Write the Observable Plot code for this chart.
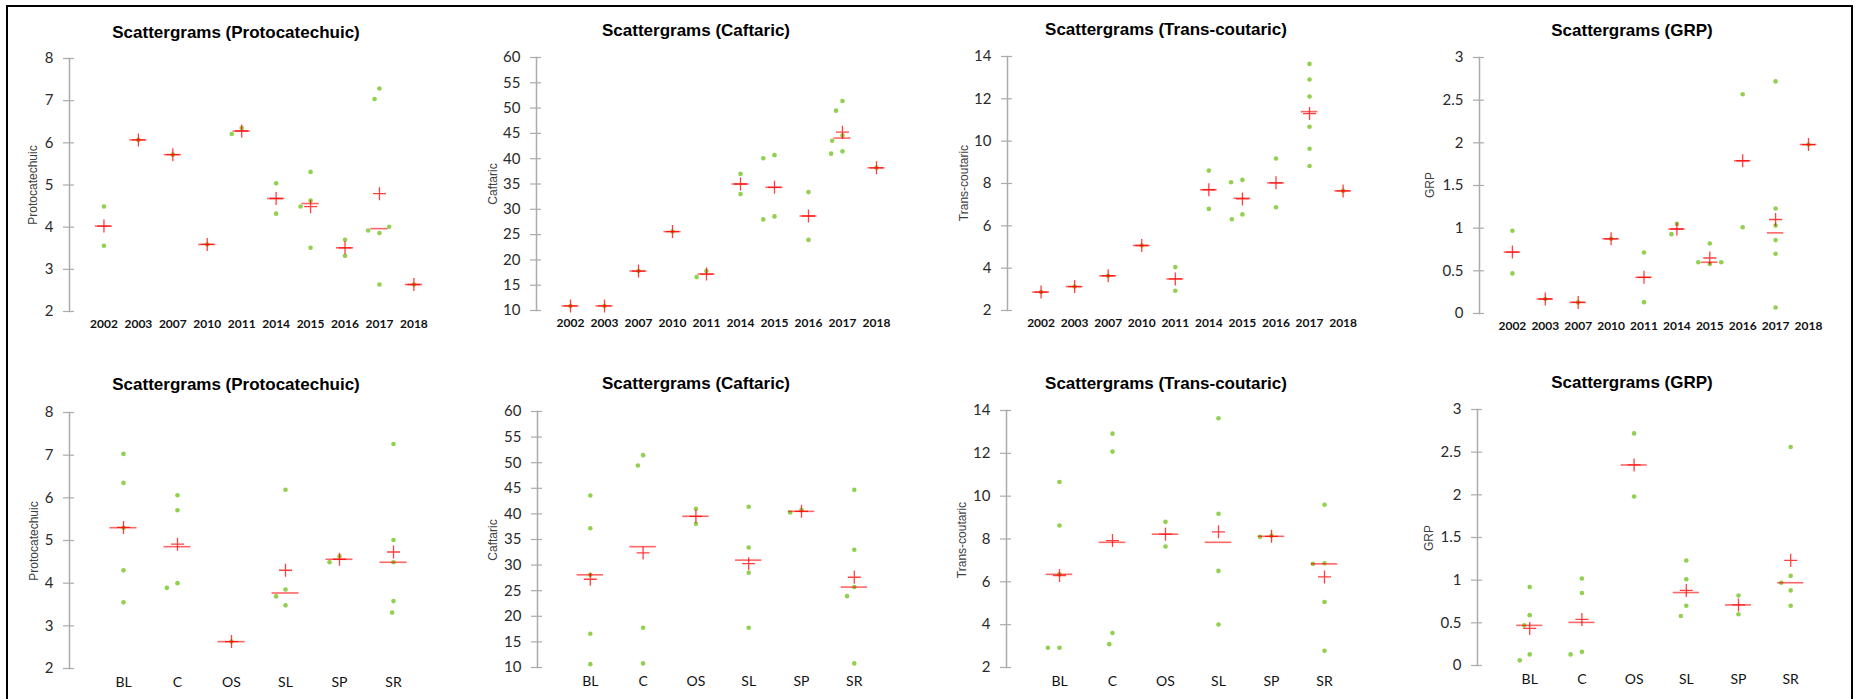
<!DOCTYPE html>
<html>
<head>
<meta charset="utf-8">
<script src="https://cdn.jsdelivr.net/npm/d3@7"></script>
<script src="https://cdn.jsdelivr.net/npm/@observablehq/plot@0.6"></script>
<style>
  html, body { margin: 0; padding: 0; background: #fff; }
  #root { position: relative; width: 1858px; height: 699px; overflow: hidden; background: #fff; }
  #border { position: absolute; left: 6px; top: 5px; width: 1843px; height: 760px; border: 2px solid #000; }
  .title { position: absolute; transform: translate(-50%, -50%); font: bold 17px "Liberation Sans", Arial, sans-serif; color: #000; white-space: nowrap; line-height: 1; }
  .ylab { position: absolute; transform: translate(-50%, -50%) rotate(-90deg); font: 12px "Liberation Sans", Arial, sans-serif; color: #404040; white-space: nowrap; line-height: 1; }
  svg.panel { position: absolute; }
</style>
</head>
<body>
<div id="root"><div id="border"></div></div>
<script>
// ---------- DATA ----------
const years = ["2002", "2003", "2007", "2010", "2011", "2014", "2015", "2016", "2017", "2018"];
const groups = ["BL", "C", "OS", "SL", "SP", "SR"];

// values per year (top row)
const protoYear = [[4.49, 3.56], [6.07], [5.72], [3.59], [6.35, 6.21], [5.04, 4.32], [5.31, 4.63, 4.49, 3.51], [3.70, 3.32], [7.29, 7.04, 3.86, 3.92, 4.01, 2.64], [2.64]];
const caftYear = [[10.9], [10.9], [17.8], [25.6], [17.8, 16.6], [37.0, 33.0], [40.7, 40.1, 28.6, 28.0], [33.4, 23.95], [51.4, 49.5, 44.6, 43.55, 41.45, 41.0], [38.2]];
const transYear = [[2.87], [3.13], [3.64], [5.07], [4.05, 2.93], [8.61, 6.80], [8.17, 8.06, 6.54, 6.31], [9.18, 6.88], [13.65, 12.91, 12.11, 10.68, 9.64, 8.83], [7.65]];
const grpYear = [[0.97, 0.47], [0.17], [0.13], [0.875], [0.715, 0.133], [1.05, 0.93], [0.82, 0.58, 0.60, 0.60], [2.57, 1.01], [2.72, 1.23, 1.03, 0.86, 0.70, 0.07], [1.98]];

// values per group (bottom row)
const protoGroup = [[7.03, 6.35, 5.30, 4.30, 3.55], [6.06, 5.71, 4.00, 3.89], [2.63], [6.19, 3.85, 3.69, 3.48], [4.63, 4.49], [7.26, 5.01, 4.49, 3.58, 3.31]];
const caftGroup = [[43.6, 37.2, 28.1, 16.6, 10.65], [51.47, 49.45, 17.75, 10.8], [41.0, 38.06], [41.4, 33.44, 28.5, 17.75], [40.73, 40.27], [44.7, 33.0, 25.7, 23.93, 10.8]];
const transGroup = [[10.66, 8.63, 6.35, 2.92, 2.92], [12.92, 12.08, 3.61, 3.09], [8.8, 7.65], [13.64, 9.18, 6.51, 4.01], [8.15, 8.10], [9.6, 6.87, 6.84, 5.06, 2.78]];
const grpGroup = [[0.92, 0.59, 0.47, 0.13, 0.06], [1.02, 0.85, 0.16, 0.13], [2.72, 1.98], [1.23, 1.01, 0.70, 0.58], [0.82, 0.60], [2.56, 1.05, 0.97, 0.88, 0.70]];

// y-axis ticks
const protoTicks = [2, 3, 4, 5, 6, 7, 8];
const caftTicks = [10, 15, 20, 25, 30, 35, 40, 45, 50, 55, 60];
const transTicks = [2, 4, 6, 8, 10, 12, 14];
const grpTicks = [0, 0.5, 1, 1.5, 2, 2.5, 3];

// ---------- LAYOUT ----------
const panels = [
  {title: "Scattergrams (Protocatechuic)", label: "Protocatechuic", cats: years, values: protoYear, ticks: protoTicks, axisX: 69, step: 34.44, yTop: 58, yBot: 311, tx: 236, ty: 32, lx: 33, ly: 185, row: 0},
  {title: "Scattergrams (Caftaric)", label: "Caftaric", cats: years, values: caftYear, ticks: caftTicks, axisX: 536, step: 34.0, yTop: 57, yBot: 310, tx: 696, ty: 30, lx: 493, ly: 184, row: 0},
  {title: "Scattergrams (Trans-coutaric)", label: "Trans-coutaric", cats: years, values: transYear, ticks: transTicks, axisX: 1007, step: 33.56, yTop: 56, yBot: 310, tx: 1166, ty: 29, lx: 964, ly: 183, row: 0},
  {title: "Scattergrams (GRP)", label: "GRP", cats: years, values: grpYear, ticks: grpTicks, axisX: 1479, step: 32.9, yTop: 57, yBot: 313, tx: 1632, ty: 30, lx: 1430, ly: 185, row: 0},
  {title: "Scattergrams (Protocatechuic)", label: "Protocatechuic", cats: groups, values: protoGroup, ticks: protoTicks, axisX: 69, step: 54, yTop: 412, yBot: 668, tx: 236, ty: 384, lx: 34, ly: 541, row: 1},
  {title: "Scattergrams (Caftaric)", label: "Caftaric", cats: groups, values: caftGroup, ticks: caftTicks, axisX: 537, step: 52.8, yTop: 411, yBot: 667, tx: 696, ty: 383, lx: 493, ly: 540, row: 1},
  {title: "Scattergrams (Trans-coutaric)", label: "Trans-coutaric", cats: groups, values: transGroup, ticks: transTicks, axisX: 1006, step: 53, yTop: 410, yBot: 667, tx: 1166, ty: 383, lx: 962, ly: 540, row: 1},
  {title: "Scattergrams (GRP)", label: "GRP", cats: groups, values: grpGroup, ticks: grpTicks, axisX: 1477, step: 52.2, yTop: 409, yBot: 665, tx: 1632, ty: 382, lx: 1429, ly: 538, row: 1}
];

const GREEN = "#92d050";
const RED = "#ff0000";
const AXIS = "#ababab";
const TICKTXT = "#2a2a2a";
const NUMFONT = "Lato, 'Open Sans', sans-serif";

// "+" symbol for the mean
const crossSymbol = {
  draw(ctx, size) {
    const r = Math.sqrt(size / Math.PI);
    ctx.moveTo(-r, 0); ctx.lineTo(r, 0);
    ctx.moveTo(0, -r); ctx.lineTo(0, r);
  }
};

const root = document.getElementById("root");
const mL = 45, mR = 10, mT = 12, mB = 30;

for (const p of panels) {
  const data = p.cats.flatMap((c, i) => p.values[i].map(v => ({cat: c, v})));
  const n = p.cats.length;
  const width = mL + (n + 1) * p.step + mR;
  const height = mT + (p.yBot - p.yTop) + mB;
  const half = p.step / 2;
  const domain = [p.ticks[0], p.ticks[p.ticks.length - 1]];
  const bottom = p.row === 1;

  const svg = Plot.plot({
    width, height,
    marginLeft: mL, marginRight: mR, marginTop: mT, marginBottom: mB,
    style: {background: "transparent", overflow: "visible"},
    fx: {domain: p.cats, paddingInner: 0, paddingOuter: 0.5, round: false, axis: null, label: null},
    y: {domain, axis: null},
    marks: [
      Plot.frame({anchor: "left", facetAnchor: "left", dx: -half, stroke: AXIS, strokeWidth: 1.5}),
      Plot.axisY({
        ticks: p.ticks, tickFormat: d => String(d), tickSize: 11, tickPadding: 10, dx: -half + 5,
        stroke: AXIS, strokeWidth: 1.2, fill: TICKTXT, fontSize: 15, fontFamily: NUMFONT, label: null
      }),
      Plot.axisFx({
        anchor: "bottom", tickSize: 0, tickPadding: bottom ? 9 : 7.5, label: null,
        fill: "#111", fontSize: bottom ? 14 : 12, fontWeight: bottom ? "normal" : "bold", fontFamily: NUMFONT
      }),
      Plot.dot(data, Plot.dodgeX({anchor: "middle", padding: 7}, {y: "v", fx: "cat", r: 2.3, fill: GREEN})),
      Plot.tickY(data, Plot.groupZ({y: "median"}, {
        y: "v", fx: "cat", stroke: RED, strokeOpacity: 0.6, strokeWidth: 1.6,
        insetLeft: p.step / 4, insetRight: p.step / 4
      })),
      Plot.dot(data, Plot.groupZ({y: "mean"}, {
        y: "v", fx: "cat", symbol: crossSymbol, r: 6.5, stroke: RED, strokeOpacity: 0.75, strokeWidth: 1.3, fill: "none"
      }))
    ]
  });
  svg.classList.add("panel");
  svg.style.left = (p.axisX - mL) + "px";
  svg.style.top = (p.yTop - mT) + "px";
  root.appendChild(svg);

  const t = document.createElement("div");
  t.className = "title";
  t.textContent = p.title;
  t.style.left = p.tx + "px";
  t.style.top = p.ty + "px";
  root.appendChild(t);

  const l = document.createElement("div");
  l.className = "ylab";
  l.textContent = p.label;
  l.style.left = p.lx + "px";
  l.style.top = p.ly + "px";
  root.appendChild(l);
}
</script>
</body>
</html>
